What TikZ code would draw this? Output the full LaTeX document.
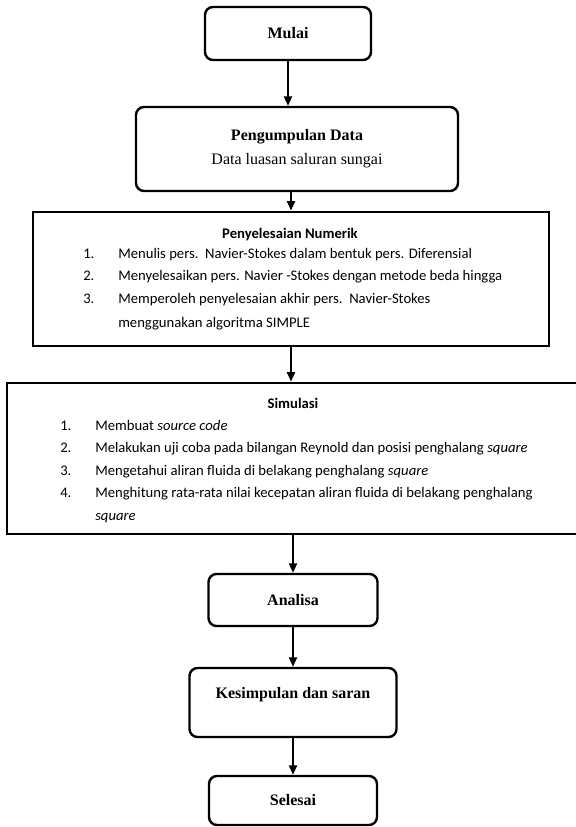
\documentclass[tikz,border=0pt]{standalone}
\usepackage{fontspec}
\setmainfont{Liberation Serif}
\newfontfamily\calibri{Carlito}
\usetikzlibrary{arrows.meta,positioning}

\begin{document}
\begin{tikzpicture}[x=0.75pt,y=-0.75pt,
  terminal/.style={draw,rounded corners=6pt,line width=1.8pt,inner sep=0pt,
    align=center,font=\fontsize{12}{18}\selectfont\bfseries},
  prosesbox/.style={draw,line width=2.2pt,inner sep=0pt},
  judul/.style={inner sep=0pt,font=\calibri\fontsize{11}{13}\selectfont\bfseries},
  butir/.style={anchor=west,inner sep=0pt,text height=7.5pt,text depth=2pt,
    font=\calibri\fontsize{11}{13}\selectfont},
  panah/.style={-{Triangle[length=7pt,width=6pt]},line width=1.3pt}]

\useasboundingbox (0,0) rectangle (575,827);

% kotak-kotak
\node[terminal,minimum width=124.5pt,minimum height=39.75pt] (mulai) at (288,33.5) {Mulai};
\node[terminal,minimum width=241.5pt,minimum height=63pt] (data) at (297,149)
{Pengumpulan Data\\\mdseries Data luasan saluran sungai};
\node[prosesbox,minimum width=387pt,minimum height=100.5pt] (numerik) at (291,279) {};
\node[prosesbox,minimum width=435pt,minimum height=113.25pt] (simulasi) at (297,458.5) {};
\node[terminal,minimum width=126.75pt,minimum height=39pt] (analisa) at (293,600) {Analisa};
\node[terminal,minimum width=155.25pt,minimum height=51.75pt] (simpul) at (293,702.5) {};
\node[inner sep=0pt,font=\fontsize{12}{14}\selectfont\bfseries] (simpultxt) at (293,695)
{Kesimpulan dan saran};
\node[terminal,minimum width=126pt,minimum height=36.75pt] (selesai) at (293,800.5) {Selesai};

% isi penyelesaian numerik
\node[judul] (numjudul) at (290,235) {Penyelesaian Numerik};
\node[butir] (n1no) at (83,255) {1.};
\node[butir] (n1) at (118,255) {Menulis pers.\ \ Navier-Stokes dalam bentuk pers. Diferensial};
\node[butir] (n2no) at (83,277) {2.};
\node[butir] (n2) at (118,277) {Menyelesaikan pers. Navier -Stokes dengan metode beda hingga};
\node[butir] (n3no) at (83,300) {3.};
\node[butir] (n3) at (118,300) {Memperoleh penyelesaian akhir pers.\ \ Navier-Stokes};
\node[butir] (n3b) at (118,324) {menggunakan algoritma SIMPLE};

% isi simulasi
\node[judul] (simjudul) at (293,403) {Simulasi};
\node[butir] (s1no) at (60,427) {1.};
\node[butir] (s1) at (95,427) {Membuat \textit{source code}};
\node[butir] (s2no) at (60,449) {2.};
\node[butir] (s2) at (95,449) {Melakukan uji coba pada bilangan Reynold dan posisi penghalang \textit{square}};
\node[butir] (s3no) at (60,472) {3.};
\node[butir] (s3) at (95,472) {Mengetahui aliran fluida di belakang penghalang \textit{square}};
\node[butir] (s4no) at (60,494) {4.};
\node[butir] (s4) at (95,494) {Menghitung rata-rata nilai kecepatan aliran fluida di belakang penghalang};
\node[butir] (s4b) at (95,517) {\textit{square}};

% panah
\draw[panah] (mulai.south) -- (mulai.south |- data.north);
\draw[panah] (numerik.north |- data.south) -- (numerik.north);
\draw[panah] (numerik.south) -- (numerik.south |- simulasi.north);
\draw[panah] (analisa.north |- simulasi.south) -- (analisa.north);
\draw[panah] (analisa.south) -- (analisa.south |- simpul.north);
\draw[panah] (simpul.south) -- (simpul.south |- selesai.north);
\end{tikzpicture}
\end{document}
